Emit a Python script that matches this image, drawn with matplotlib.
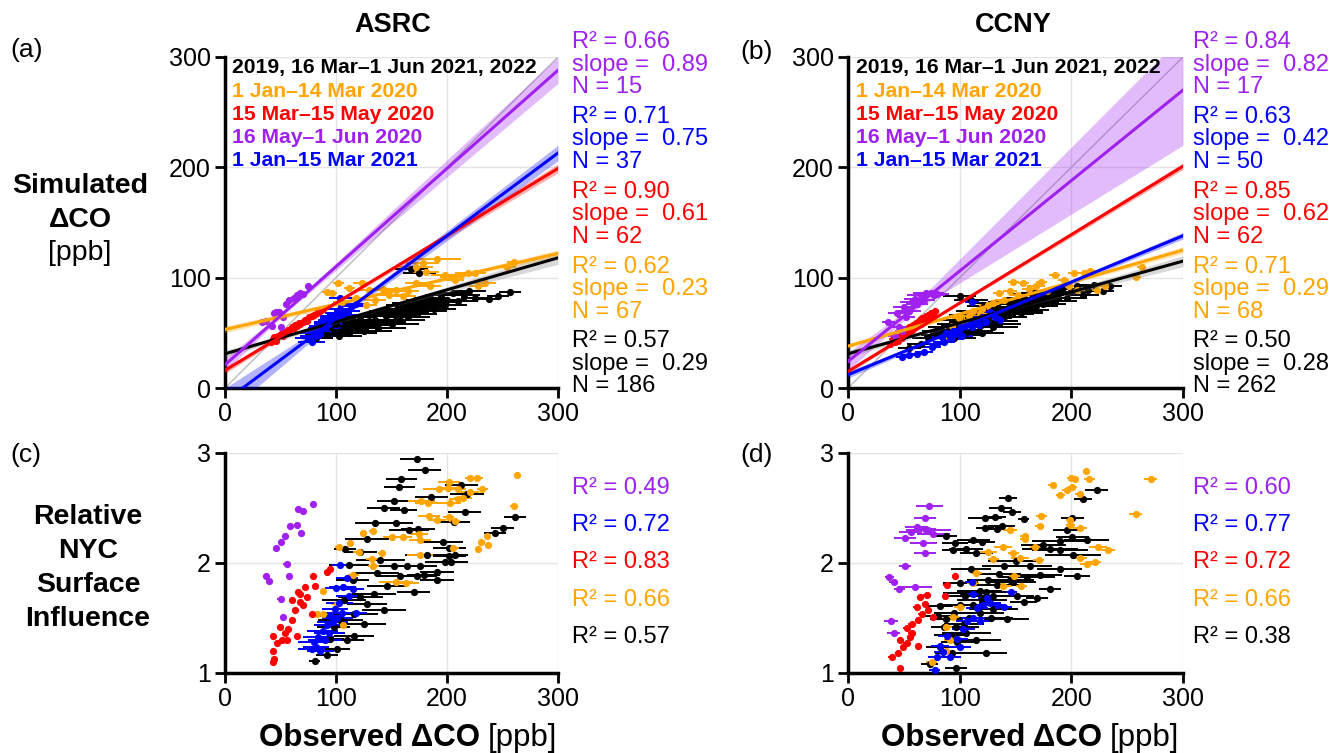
import numpy as np
import matplotlib.pyplot as plt

plt.rcParams['font.family'] = ['Liberation Sans', 'DejaVu Sans']

# series order used for drawing
SERIES = ['black', 'orange', 'red', 'blue', 'purple']
COLORS = {'black': '#000000', 'orange': '#FFA500', 'red': '#FF0000',
          'blue': '#0000FF', 'purple': '#A020F0'}
LEGEND_LABELS = [('2019, 16 Mar\u20131 Jun 2021, 2022', 'black'),
                 ('1 Jan\u201314 Mar 2020', 'orange'),
                 ('15 Mar\u201315 May 2020', 'red'),
                 ('16 May\u20131 Jun 2020', 'purple'),
                 ('1 Jan\u201315 Mar 2021', 'blue')]
STAT_ORDER = ['purple', 'blue', 'red', 'orange', 'black']

# ---- ASRC: observed vs simulated (x, y, xerr)
ASRC_SIM_BLACK = [(82, 45, 15), (88, 52, 18), (92, 48, 20), (95, 55, 15), (98, 50, 22), (100, 58, 18),
                  (103, 47, 20), (105, 53, 25), (108, 60, 15), (110, 56, 20), (112, 50, 25), (115, 62, 18),
                  (118, 55, 22), (120, 58, 20), (122, 64, 15), (125, 52, 25), (128, 60, 20), (130, 66, 18),
                  (132, 57, 22), (135, 62, 20), (138, 54, 25), (140, 68, 15), (143, 60, 20), (145, 65, 22),
                  (148, 70, 18), (150, 58, 25), (153, 66, 20), (155, 72, 15), (158, 62, 22), (160, 69, 20),
                  (163, 75, 18), (165, 64, 20), (168, 71, 15), (170, 77, 20), (173, 67, 18), (175, 73, 22),
                  (178, 80, 15), (180, 70, 20), (183, 76, 18), (185, 82, 15), (188, 72, 20), (190, 78, 18),
                  (195, 84, 15), (198, 75, 20), (200, 80, 18), (205, 86, 15), (210, 79, 18), (215, 84, 15),
                  (220, 88, 15), (225, 82, 12), (238, 81, 10), (246, 83, 10), (257, 87, 10), (168, 108, 15),
                  (175, 104, 15)]
ASRC_SIM_ORANGE = [(92, 87, 5), (96, 86, 5), (102, 95, 5), (105, 78, 8), (112, 91, 5), (118, 82, 10),
                   (123, 95, 8), (127, 75, 10), (130, 89, 12), (135, 80, 10), (142, 90, 10), (148, 84, 12),
                   (154, 89, 10), (160, 83, 12), (165, 88, 10), (172, 95, 10), (172, 110, 15), (178, 113, 15),
                   (181, 105, 12), (185, 92, 10), (191, 117, 22), (198, 102, 12), (204, 101, 10), (207, 98, 8),
                   (213, 102, 10), (219, 104, 12), (225, 104, 10), (228, 92, 8), (234, 95, 10), (254, 110, 8),
                   (260, 114, 6)]
ASRC_SIM_RED = [(41, 42, 2), (43, 44, 2), (44, 46, 2), (46, 43, 2), (48, 47, 2), (50, 49, 2), (52, 47, 2),
                (53, 51, 2), (55, 50, 2), (57, 53, 2), (58, 52, 2), (60, 55, 2), (62, 54, 2), (63, 57, 2),
                (65, 56, 2), (67, 59, 2), (68, 58, 2), (70, 60, 2), (72, 62, 2), (74, 61, 2), (76, 64, 2),
                (78, 65, 2), (80, 66, 2), (83, 68, 2), (86, 70, 2), (88, 72, 2)]
ASRC_SIM_BLUE = [(75, 45, 12), (78, 42, 12), (80, 50, 12), (82, 47, 14), (84, 52, 12), (86, 51, 14),
                 (88, 56, 12), (90, 54, 15), (92, 60, 12), (94, 58, 14), (96, 62, 12), (98, 65, 12),
                 (100, 63, 14), (102, 68, 12), (104, 72, 12), (106, 66, 14), (110, 70, 12), (114, 74, 12),
                 (118, 76, 10), (104, 82, 10)]
ASRC_SIM_PURPLE = [(33, 60, 2), (37, 61, 2), (42, 56, 2), (44, 68, 2), (46, 69, 2), (49, 69, 2), (52, 64, 2),
                   (55, 76, 2), (58, 80, 2), (62, 82, 2), (65, 84, 2), (68, 86, 2), (70, 85, 2), (75, 92, 2),
                   (50, 55, 2)]

# ---- ASRC: observed vs relative NYC surface influence (x, y, xerr)
ASRC_REL_BLACK = [(173, 2.95, 15), (180, 2.85, 15), (159, 2.76, 14), (157, 2.69, 14), (152, 2.56, 15),
                  (143, 2.50, 15), (161, 2.48, 12), (135, 2.36, 18), (154, 2.36, 15), (166, 2.30, 18),
                  (174, 2.31, 15), (108, 2.13, 10), (122, 2.10, 15), (213, 2.71, 15), (218, 2.63, 15),
                  (216, 2.46, 15), (206, 2.37, 15), (196, 2.19, 18), (202, 2.14, 15), (207, 2.07, 12),
                  (204, 2.01, 15), (261, 2.42, 10), (250, 2.32, 10), (243, 2.27, 10), (191, 1.85, 15),
                  (170, 1.74, 15), (173, 1.88, 18), (158, 1.88, 20), (143, 1.57, 20), (125, 1.45, 20),
                  (116, 1.34, 18), (110, 1.30, 15), (101, 1.22, 12), (92, 1.16, 10), (81, 1.11, 5),
                  (95, 1.31, 12), (128, 1.63, 18), (134, 1.72, 20), (146, 1.79, 18), (137, 1.91, 20),
                  (152, 1.97, 20), (164, 1.97, 18), (176, 1.97, 15), (179, 1.89, 15), (191, 1.92, 15),
                  (198, 2.01, 18), (202, 2.06, 15), (182, 2.07, 20), (122, 1.69, 20), (116, 1.54, 22),
                  (104, 1.48, 20), (98, 1.42, 15), (107, 1.66, 20), (115, 1.85, 15), (140, 2.03, 22),
                  (128, 2.22, 20), (186, 2.60, 15), (112, 1.98, 18)]
ASRC_REL_ORANGE = [(102.5, 2.15, 3), (113, 2.18, 3), (120.6, 2.10, 5), (124.6, 2.27, 3), (133, 2.29, 3),
                   (141, 2.09, 3), (132, 2.04, 5), (133.5, 1.97, 5), (115.6, 1.89, 5), (150, 2.24, 8),
                   (160.6, 2.24, 8), (175, 2.26, 8), (175.6, 2.21, 10), (175.6, 2.07, 12), (184, 2.43, 10),
                   (191, 2.39, 8), (177, 2.56, 12), (183, 2.55, 12), (203, 2.55, 10), (210, 2.58, 8),
                   (214.6, 2.59, 8), (221, 2.65, 8), (193, 2.67, 15), (201.5, 2.74, 10), (200.6, 2.68, 8),
                   (209.5, 2.67, 8), (221, 2.77, 5), (227, 2.77, 5), (231.7, 2.67, 5), (263, 2.80, 3),
                   (260, 2.52, 3), (236, 2.25, 3), (231, 2.19, 3), (237, 2.16, 3), (228, 2.13, 3),
                   (205.7, 2.14, 5), (207, 2.38, 5), (201.5, 2.42, 5), (154, 1.83, 15), (163, 1.82, 12),
                   (88.6, 1.75, 3), (88.6, 1.54, 3), (82.6, 1.54, 3), (106.6, 1.44, 3), (100.6, 1.63, 5)]
ASRC_REL_RED = [(43.5, 1.10, 2), (44, 1.13, 2), (43, 1.20, 2), (46.5, 1.27, 2), (43.5, 1.34, 2), (51, 1.30, 2),
                (54, 1.36, 2), (57, 1.40, 2), (60, 1.48, 2), (63, 1.57, 2), (67.6, 1.65, 2), (67.6, 1.72, 2),
                (73.6, 1.69, 2), (72, 1.78, 2), (79.6, 1.88, 2), (81, 1.79, 2), (91.6, 1.92, 2),
                (94.6, 1.95, 2), (78, 1.54, 2), (64.6, 1.34, 2), (55.5, 1.30, 2), (70.6, 1.62, 2),
                (60, 1.66, 2), (66, 1.74, 2), (49.5, 1.42, 2)]
ASRC_REL_BLUE = [(78, 1.22, 12), (80, 1.28, 14), (82, 1.24, 12), (84, 1.33, 14), (86, 1.20, 12),
                 (88, 1.38, 14), (90, 1.30, 15), (92, 1.44, 12), (94, 1.36, 14), (95, 1.52, 12),
                 (97, 1.46, 14), (99, 1.58, 12), (101, 1.50, 14), (103, 1.64, 12), (105, 1.55, 14),
                 (100, 1.77, 10), (106, 1.78, 12), (110, 1.86, 10), (112, 1.70, 12), (115, 1.76, 10),
                 (104, 1.98, 8), (118, 1.55, 10)]
ASRC_REL_PURPLE = [(79, 2.54, 2), (65.5, 2.49, 2), (70, 2.47, 2), (58.5, 2.34, 2), (64.6, 2.35, 2),
                   (68.5, 2.27, 2), (54, 2.25, 2), (50, 2.19, 2), (46, 2.14, 2), (55.5, 1.99, 3),
                   (58, 1.88, 3), (37, 1.88, 3), (40, 1.84, 2), (50, 1.67, 3), (52.5, 1.51, 3)]

# ---- CCNY: observed vs simulated
CCNY_SIM_BLACK = [(55, 36, 10), (65, 40, 12), (72, 45, 15), (80, 48, 15), (84, 52, 18), (88, 46, 20),
                  (90, 55, 18), (93, 50, 20), (95, 58, 15), (98, 53, 22), (100, 62, 18), (102, 48, 20),
                  (105, 57, 22), (108, 66, 18), (110, 52, 20), (112, 60, 22), (115, 70, 18), (118, 56, 20),
                  (120, 63, 22), (122, 74, 15), (125, 58, 20), (128, 66, 22), (130, 77, 18), (132, 61, 20),
                  (135, 69, 22), (138, 72, 18), (140, 64, 20), (143, 78, 18), (145, 67, 22), (148, 73, 20),
                  (150, 80, 18), (153, 70, 22), (155, 76, 20), (158, 82, 18), (160, 71, 20), (163, 78, 22),
                  (165, 85, 18), (168, 74, 20), (170, 80, 22), (173, 86, 18), (175, 76, 20), (178, 82, 18),
                  (180, 88, 15), (185, 79, 20), (188, 85, 18), (192, 90, 15), (196, 82, 18), (200, 87, 15),
                  (205, 92, 15), (210, 84, 15), (215, 89, 12), (220, 93, 12), (228, 88, 10), (235, 92, 10),
                  (100, 83, 15), (110, 80, 15), (95, 45, 20), (105, 50, 22), (115, 58, 20), (125, 63, 22),
                  (135, 58, 20), (145, 72, 22), (155, 68, 20), (165, 74, 20), (175, 84, 18), (185, 86, 18),
                  (120, 50, 20), (130, 55, 22)]
CCNY_SIM_ORANGE = [(87, 47, 5), (93, 56, 5), (99, 63, 6), (105, 60, 6), (108, 65, 8), (112, 70, 6),
                   (118, 68, 8), (120, 72, 6), (125, 75, 8), (130, 77, 6), (135, 86, 5), (140, 80, 8),
                   (145, 88, 6), (148, 96, 5), (152, 84, 8), (157, 95, 5), (162, 90, 6), (168, 92, 8),
                   (173, 96, 5), (178, 88, 6), (185, 102, 5), (193, 98, 5), (198, 92, 8), (202, 104, 5),
                   (205, 89, 8), (211, 104, 5), (217, 106, 5), (223, 89, 8), (230, 92, 6), (258, 101, 4),
                   (263, 110, 4)]
CCNY_SIM_RED = [(38, 40, 3), (40, 44, 3), (42, 42, 3), (44, 46, 3), (45, 43, 3), (47, 47, 3), (48, 45, 3),
                (50, 50, 3), (51, 48, 3), (53, 52, 3), (54, 50, 3), (55, 55, 3), (57, 53, 3), (58, 57, 3),
                (60, 55, 3), (61, 59, 3), (62, 57, 3), (64, 61, 3), (65, 58, 3), (66, 63, 3), (68, 60, 3),
                (70, 65, 3), (72, 63, 3), (74, 68, 3), (76, 66, 3), (78, 70, 3)]
CCNY_SIM_BLUE = [(48, 28, 5), (55, 30, 6), (62, 31, 6), (68, 33, 8), (75, 37, 8), (80, 40, 8), (84, 46, 10),
                 (86, 42, 10), (88, 50, 10), (90, 48, 10), (92, 44, 10), (94, 52, 10), (96, 49, 10),
                 (99, 53, 10), (102, 47, 10), (105, 56, 10), (108, 58, 10), (111, 55, 10), (114, 61, 10),
                 (117, 57, 8), (120, 64, 8), (124, 60, 8), (127, 69, 8), (132, 64, 8), (136, 62, 6),
                 (111, 78, 6)]
CCNY_SIM_PURPLE = [(36, 60, 6), (42, 47, 6), (44, 68, 8), (46, 55, 8), (48, 52, 6), (50, 73, 10),
                   (52, 64, 8), (55, 70, 10), (57, 78, 10), (60, 81, 10), (62, 76, 10), (65, 84, 12),
                   (68, 80, 10), (70, 86, 12), (74, 86, 12), (77, 84, 10), (80, 85, 10)]

# ---- CCNY: observed vs relative NYC surface influence
CCNY_REL_BLACK = [(143.5, 2.59, 8), (222.6, 2.66, 10), (210.6, 2.58, 8), (136.6, 2.50, 10), (146.5, 2.46, 8),
                  (157.5, 2.40, 5), (122.6, 2.41, 15), (131.6, 2.42, 10), (201, 2.41, 10), (137.5, 2.34, 12),
                  (122.6, 2.32, 8), (133, 2.31, 8), (195.7, 2.30, 12), (201, 2.24, 15), (213.6, 2.21, 20),
                  (189.7, 2.20, 25), (175, 2.16, 20), (181, 2.13, 25), (190, 2.12, 25), (201.5, 2.07, 25),
                  (88, 2.25, 10), (95.8, 2.18, 12), (112.3, 2.21, 15), (119.8, 2.19, 12), (94.3, 2.12, 10),
                  (105.8, 2.13, 15), (115, 2.09, 15), (189.7, 1.95, 20), (205, 1.88, 12), (181, 1.76, 10),
                  (169, 1.68, 10), (157.5, 1.65, 12), (151.6, 1.70, 15), (163, 1.97, 20), (172, 1.89, 20),
                  (148, 1.83, 20), (133, 1.80, 22), (124, 1.74, 22), (100, 1.82, 15), (103, 1.73, 18),
                  (82, 1.61, 12), (80.5, 1.52, 12), (88, 1.49, 15), (97, 1.42, 20), (106, 1.36, 22),
                  (115, 1.30, 22), (124, 1.18, 18), (93, 1.18, 15), (82, 1.24, 12), (73, 1.08, 8),
                  (97, 1.05, 10), (142, 1.49, 20), (130, 1.58, 22), (118, 1.55, 22), (150, 2.02, 25),
                  (160, 1.87, 25), (110, 1.95, 18), (140, 1.97, 20), (120, 1.66, 22), (95, 1.55, 18),
                  (100, 1.62, 20), (105, 1.70, 20), (108, 1.50, 20), (112, 1.62, 22), (118, 1.75, 20),
                  (125, 1.85, 18), (130, 1.70, 20), (135, 1.90, 20), (92, 1.35, 15), (98, 1.28, 15),
                  (104, 1.45, 18), (86, 1.42, 12), (128, 1.50, 20), (145, 1.85, 22)]
CCNY_REL_ORANGE = [(183.4, 2.71, 4), (190, 2.62, 4), (195.7, 2.66, 4), (200, 2.77, 4), (203, 2.76, 4),
                   (213, 2.84, 3), (216, 2.76, 5), (201, 2.69, 4), (207.6, 2.63, 4), (271, 2.76, 6),
                   (257.5, 2.45, 6), (173, 2.43, 5), (171.6, 2.34, 4), (199, 2.39, 4), (199, 2.35, 4),
                   (207.6, 2.32, 6), (158.4, 2.25, 4), (158.4, 2.22, 4), (145, 2.30, 6), (139, 2.15, 8),
                   (148, 2.09, 5), (154, 2.05, 8), (167.6, 2.15, 5), (170.6, 2.03, 5), (125.6, 2.10, 8),
                   (130, 2.04, 5), (207.6, 2.05, 6), (213.6, 1.99, 6), (221, 2.01, 6), (224, 2.15, 8),
                   (233, 2.12, 6), (149, 1.88, 5), (155, 1.79, 5), (139, 1.79, 8), (115, 1.91, 5),
                   (112, 1.82, 5), (100, 1.60, 5), (94, 1.51, 5), (88, 1.42, 5), (91, 1.30, 5),
                   (75, 1.10, 5), (88, 1.20, 5)]
CCNY_REL_RED = [(46.5, 1.05, 2), (39, 1.15, 3), (45, 1.18, 3), (49.5, 1.24, 3), (46.5, 1.30, 3),
                (55.5, 1.33, 3), (52.5, 1.41, 3), (57, 1.45, 3), (63, 1.48, 3), (66, 1.54, 3),
                (61.5, 1.60, 3), (69, 1.63, 3), (64.6, 1.69, 3), (70.6, 1.71, 3), (88.3, 1.80, 3),
                (95.8, 1.88, 3), (72, 1.57, 3), (52.5, 1.27, 3), (63, 1.25, 3), (57, 1.36, 3),
                (76.4, 1.51, 3), (86.8, 1.70, 3)]
CCNY_REL_BLUE = [(77.8, 1.03, 5), (79.3, 1.15, 8), (85.3, 1.19, 8), (82.3, 1.25, 8), (88.3, 1.34, 8),
                 (97.3, 1.31, 10), (103.3, 1.40, 10), (106.3, 1.47, 10), (112.3, 1.50, 10), (115.3, 1.59, 10),
                 (121.3, 1.62, 10), (127.3, 1.64, 10), (133.3, 1.62, 8), (139.3, 1.60, 8), (112.3, 1.72, 8),
                 (110.8, 1.83, 6), (124.3, 1.68, 8), (146.3, 1.74, 5), (91.3, 1.15, 10), (100.3, 1.24, 10),
                 (118.3, 1.47, 10)]
CCNY_REL_PURPLE = [(72.8, 2.52, 12), (68.9, 2.41, 10), (61.4, 2.33, 10), (68.9, 2.31, 10), (56, 2.28, 10),
                   (51, 2.23, 10), (76.4, 2.26, 15), (67.4, 2.18, 12), (68.9, 2.09, 10), (51, 1.97, 5),
                   (37, 1.87, 4), (41, 1.83, 4), (46, 1.76, 5), (60, 1.78, 15), (38.5, 1.47, 6),
                   (41, 1.36, 6), (72, 2.30, 20)]

# ---- regression fits (slope, intercept) and confidence-band half widths at x = 0, centre, 300
ASRC_SLOPE = {'black': 0.29, 'orange': 0.23, 'red': 0.61, 'blue': 0.75, 'purple': 0.89}
ASRC_INTERCEPT = {'black': 31, 'orange': 53, 'red': 16, 'blue': -12, 'purple': 21}
ASRC_BAND_XC = {'black': 150, 'orange': 170, 'red': 65, 'blue': 95, 'purple': 55}
ASRC_BAND_HW = {'black': [3, 1, 6], 'orange': [3, 1, 3], 'red': [3, 1, 4],
                'blue': [12, 2, 7], 'purple': [6, 1.5, 12]}
CCNY_SLOPE = {'black': 0.28, 'orange': 0.29, 'red': 0.62, 'blue': 0.42, 'purple': 0.82}
CCNY_INTERCEPT = {'black': 31, 'orange': 38, 'red': 15, 'blue': 12, 'purple': 24}
CCNY_BAND_XC = {'black': 150, 'orange': 160, 'red': 60, 'blue': 100, 'purple': 60}
CCNY_BAND_HW = {'black': [3, 1, 5], 'orange': [2, 1, 3], 'red': [2, 1, 3],
                'blue': [3, 1, 3], 'purple': [8, 3, 50]}

# ---- statistics printed next to the panels
ASRC_R2 = {'purple': '0.66', 'blue': '0.71', 'red': '0.90', 'orange': '0.62', 'black': '0.57'}
ASRC_SLOPE_TXT = {'purple': '0.89', 'blue': '0.75', 'red': '0.61', 'orange': '0.23', 'black': '0.29'}
ASRC_N = {'purple': 15, 'blue': 37, 'red': 62, 'orange': 67, 'black': 186}
CCNY_R2 = {'purple': '0.84', 'blue': '0.63', 'red': '0.85', 'orange': '0.71', 'black': '0.50'}
CCNY_SLOPE_TXT = {'purple': '0.82', 'blue': '0.42', 'red': '0.62', 'orange': '0.29', 'black': '0.28'}
CCNY_N = {'purple': 17, 'blue': 50, 'red': 62, 'orange': 68, 'black': 262}
ASRC_R2_REL = {'purple': '0.49', 'blue': '0.72', 'red': '0.83', 'orange': '0.66', 'black': '0.57'}
CCNY_R2_REL = {'purple': '0.60', 'blue': '0.77', 'red': '0.72', 'orange': '0.66', 'black': '0.38'}

ASRC_SIM = {'black': ASRC_SIM_BLACK, 'orange': ASRC_SIM_ORANGE, 'red': ASRC_SIM_RED,
            'blue': ASRC_SIM_BLUE, 'purple': ASRC_SIM_PURPLE}
ASRC_REL = {'black': ASRC_REL_BLACK, 'orange': ASRC_REL_ORANGE, 'red': ASRC_REL_RED,
            'blue': ASRC_REL_BLUE, 'purple': ASRC_REL_PURPLE}
CCNY_SIM = {'black': CCNY_SIM_BLACK, 'orange': CCNY_SIM_ORANGE, 'red': CCNY_SIM_RED,
            'blue': CCNY_SIM_BLUE, 'purple': CCNY_SIM_PURPLE}
CCNY_REL = {'black': CCNY_REL_BLACK, 'orange': CCNY_REL_ORANGE, 'red': CCNY_REL_RED,
            'blue': CCNY_REL_BLUE, 'purple': CCNY_REL_PURPLE}

W, H = 1333, 753


def px_axes(left, top, right, bottom):
    return [left / W, 1 - bottom / H, (right - left) / W, (bottom - top) / H]


def style_axes(ax, ylim, yticks):
    ax.set_xlim(0, 300)
    ax.set_ylim(*ylim)
    ax.set_xticks([0, 100, 200, 300])
    ax.set_yticks(yticks)
    ax.grid(True, color='#E4E4E4', lw=1)
    ax.set_axisbelow(True)
    for s in ['top', 'right']:
        ax.spines[s].set_visible(False)
    for s in ['left', 'bottom']:
        ax.spines[s].set_linewidth(2.5)
    ax.tick_params(direction='out', length=7, width=2, labelsize=18, pad=3)


def draw_points(ax, data):
    for key in SERIES:
        pts = np.array(data[key], dtype=float)
        ax.errorbar(pts[:, 0], pts[:, 1], xerr=pts[:, 2], fmt='o', ms=5.2, mew=0,
                    color=COLORS[key], ecolor=COLORS[key], elinewidth=1.4, capsize=0, zorder=3)


def draw_fits(ax, slope, intercept, xc, hw):
    xs = np.linspace(0, 300, 200)
    ax.plot([0, 300], [0, 300], color='#BBBBBB', lw=1, zorder=2)
    for key in SERIES:
        yfit = intercept[key] + slope[key] * xs
        half = np.interp(xs, [0, xc[key], 300], hw[key])
        band_col = '#808080' if key == 'black' else COLORS[key]
        ax.fill_between(xs, yfit - half, yfit + half, color=band_col, alpha=0.3, lw=0, zorder=4)
    for key in SERIES:
        ax.plot(xs, intercept[key] + slope[key] * xs, color=COLORS[key], lw=2.2, zorder=5)


def draw_legend(ax, x0):
    for i, (label, key) in enumerate(LEGEND_LABELS):
        ax.text(x0, 0.967 - i * 0.07, label, transform=ax.transAxes, color=COLORS[key],
                fontsize=15.2, fontweight='bold', va='center', ha='left', zorder=6)


def draw_stats(ax, x0, r2, slope_txt, n):
    for b, key in enumerate(STAT_ORDER):
        lines = ['R\u00b2 = %s' % r2[key], 'slope =  %s' % slope_txt[key], 'N = %d' % n[key]]
        for j, line in enumerate(lines):
            ax.text(x0, 1.045 - b * 0.226 - j * 0.068, line, transform=ax.transAxes,
                    color=COLORS[key], fontsize=17, va='center', ha='left', clip_on=False)


def draw_rel_stats(ax, x0, r2):
    for b, key in enumerate(STAT_ORDER):
        ax.text(x0, 0.841 - b * 0.169, 'R\u00b2 = %s' % r2[key], transform=ax.transAxes,
                color=COLORS[key], fontsize=17, va='center', ha='left', clip_on=False)


fig = plt.figure(figsize=(W / 100, H / 100), dpi=100)

ax_a = fig.add_axes(px_axes(225, 57, 558, 388))
ax_b = fig.add_axes(px_axes(848, 57, 1183, 388))
ax_c = fig.add_axes(px_axes(225, 453, 558, 673))
ax_d = fig.add_axes(px_axes(848, 453, 1183, 673))

for ax, sim, slope, icpt, xc, hw, lx, sx, r2, stx, n in [
        (ax_a, ASRC_SIM, ASRC_SLOPE, ASRC_INTERCEPT, ASRC_BAND_XC, ASRC_BAND_HW, 0.021, 1.042,
         ASRC_R2, ASRC_SLOPE_TXT, ASRC_N),
        (ax_b, CCNY_SIM, CCNY_SLOPE, CCNY_INTERCEPT, CCNY_BAND_XC, CCNY_BAND_HW, 0.024, 1.03,
         CCNY_R2, CCNY_SLOPE_TXT, CCNY_N)]:
    style_axes(ax, (0, 300), [0, 100, 200, 300])
    draw_points(ax, sim)
    draw_fits(ax, slope, icpt, xc, hw)
    draw_legend(ax, lx)
    draw_stats(ax, sx, r2, stx, n)

for ax, rel, sx, r2 in [(ax_c, ASRC_REL, 1.042, ASRC_R2_REL), (ax_d, CCNY_REL, 1.03, CCNY_R2_REL)]:
    style_axes(ax, (1, 3), [1, 2, 3])
    draw_points(ax, rel)
    draw_rel_stats(ax, sx, r2)

# titles, panel labels and axis labels
fig.text(393 / W, 1 - 25 / H, 'ASRC', fontsize=19.5, fontweight='bold', ha='center', va='center')
fig.text(1013 / W, 1 - 25 / H, 'CCNY', fontsize=19.5, fontweight='bold', ha='center', va='center')
for lbl, x, y in [('(a)', 10, 50), ('(b)', 740, 52), ('(c)', 10, 455), ('(d)', 740, 455)]:
    fig.text(x / W, 1 - y / H, lbl, fontsize=19, ha='left', va='center')

for txt, y, bold in [('Simulated', 186, True), ('\u0394CO', 220, True), ('[ppb]', 253, False)]:
    fig.text(80 / W, 1 - y / H, txt, fontsize=20.5, fontweight='bold' if bold else 'normal',
             ha='center', va='center')
for txt, y in [('Relative', 517), ('NYC', 551), ('Surface', 585), ('Influence', 619)]:
    fig.text(88 / W, 1 - y / H, txt, fontsize=20.5, fontweight='bold', ha='center', va='center')

for xr in [480, 1102]:
    fig.text(xr / W, 1 - 738 / H, 'Observed \u0394CO', fontsize=22.5, fontweight='bold',
             ha='right', va='center')
    fig.text((xr + 8) / W, 1 - 738 / H, '[ppb]', fontsize=22.5, ha='left', va='center')

fig.savefig('out.png', dpi=100)
